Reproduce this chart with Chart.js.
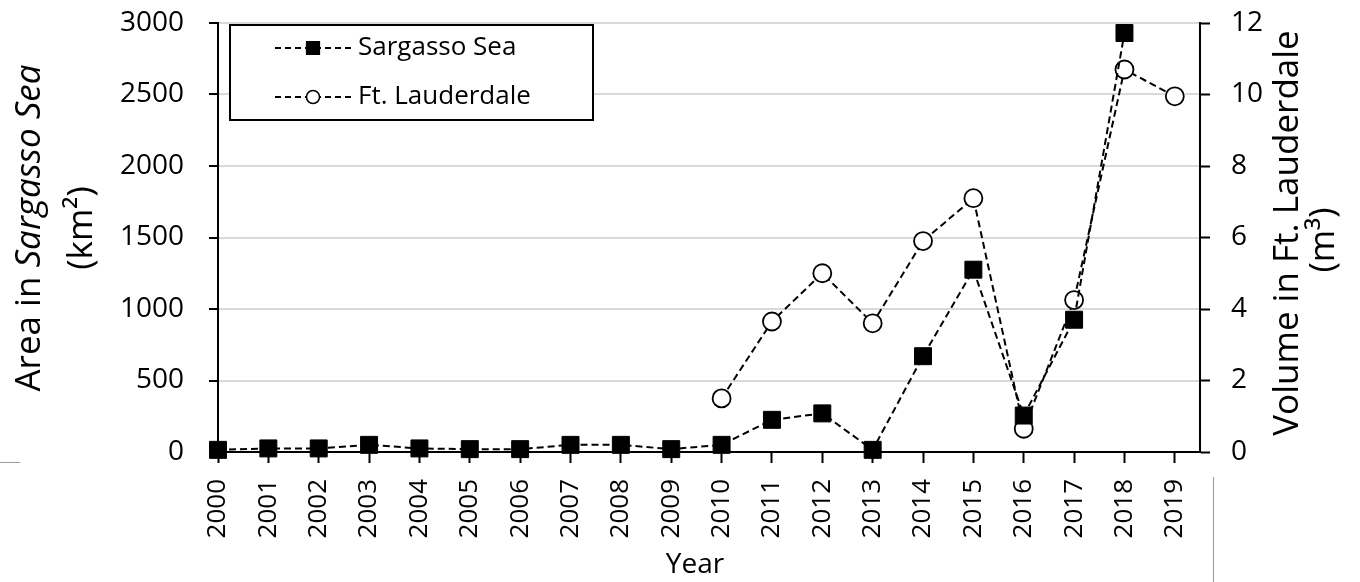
<!DOCTYPE html>
<html lang="en">
<head>
  <meta charset="UTF-8">
  <title>Sargasso Sea vs Ft. Lauderdale</title>
  <script src="https://cdn.jsdelivr.net/npm/chart.js"></script>
  <style>
    body {
      margin: 0;
      background: #ffffff;
    }
    .wrap {
      width: 1360px;
      height: 582px;
    }
  </style>
</head>
<body>
  <div class="wrap">
    <canvas id="seaChart" width="1360" height="582"></canvas>
  </div>

  <script>
    // data
    const years = [2000, 2001, 2002, 2003, 2004, 2005, 2006, 2007, 2008, 2009,
                   2010, 2011, 2012, 2013, 2014, 2015, 2016, 2017, 2018, 2019];
    const sargassoArea = [15, 25, 25, 50, 25, 20, 20, 50, 50, 20,
                          50, 225, 270, 15, 670, 1275, 255, 925, 2930, null];
    const lauderdaleVolume = [null, null, null, null, null, null, null, null, null, null,
                              1.5, 3.65, 5.0, 3.6, 5.9, 7.1, 0.65, 4.25, 10.7, 9.95];
    const leftTicks = [0, 500, 1000, 1500, 2000, 2500, 3000];
    const rightTicks = [0, 2, 4, 6, 8, 10, 12];

    const FONT = "'Open Sans', sans-serif";

    const toPoints = (vals) => years.map((yr, i) => ({ x: yr, y: vals[i] }));

    // keep the plot box where the figure has it
    const noPad = (axis) => {
      axis.paddingTop = 0;
      axis.paddingBottom = 0;
    };

    // axis titles, legend box and two scan leftovers
    const extras = {
      id: 'extras',
      afterDraw(chart) {
        const ctx = chart.ctx;
        ctx.save();
        ctx.fillStyle = '#000';
        ctx.textBaseline = 'middle';

        // left title, first line has an italic part
        ctx.save();
        ctx.translate(30, 228);
        ctx.rotate(-Math.PI / 2);
        const partA = 'Area in ';
        const partB = 'Sargasso Sea';
        ctx.font = '35px ' + FONT;
        const wA = ctx.measureText(partA).width;
        ctx.font = 'italic 35px ' + FONT;
        const wB = ctx.measureText(partB).width;
        const startX = -(wA + wB) / 2;
        ctx.textAlign = 'left';
        ctx.font = '35px ' + FONT;
        ctx.fillText(partA, startX, 0);
        ctx.font = 'italic 35px ' + FONT;
        ctx.fillText(partB, startX + wA, 0);
        ctx.restore();

        ctx.save();
        ctx.translate(82, 228);
        ctx.rotate(-Math.PI / 2);
        ctx.textAlign = 'center';
        ctx.font = '35px ' + FONT;
        ctx.fillText('(km²)', 0, 0);
        ctx.restore();

        // right title, reads bottom to top as well
        ctx.save();
        ctx.translate(1288, 233);
        ctx.rotate(-Math.PI / 2);
        ctx.textAlign = 'center';
        ctx.font = '35px ' + FONT;
        ctx.fillText('Volume in Ft. Lauderdale', 0, 0);
        ctx.restore();

        ctx.save();
        ctx.translate(1324, 240);
        ctx.rotate(-Math.PI / 2);
        ctx.textAlign = 'center';
        ctx.font = '35px ' + FONT;
        ctx.fillText('(m³)', 0, 0);
        ctx.restore();

        // x title
        ctx.textAlign = 'center';
        ctx.font = '28px ' + FONT;
        ctx.fillText('Year', 695, 565);

        // legend box
        ctx.fillStyle = '#fff';
        ctx.fillRect(230, 25, 363, 95);
        ctx.strokeStyle = '#000';
        ctx.lineWidth = 2;
        ctx.strokeRect(230, 25, 363, 95);

        const rows = [
          { y: 48, style: 'rect', r: 9, fill: '#000', text: 'Sargasso Sea' },
          { y: 97, style: 'circle', r: 6.5, fill: '#fff', text: 'Ft. Lauderdale' }
        ];
        rows.forEach(row => {
          ctx.save();
          ctx.setLineDash([6, 4]);
          ctx.lineWidth = 2;
          ctx.strokeStyle = '#000';
          ctx.beginPath();
          ctx.moveTo(275, row.y);
          ctx.lineTo(352, row.y);
          ctx.stroke();
          ctx.setLineDash([]);
          ctx.fillStyle = row.fill;
          ctx.lineWidth = 1.5;
          Chart.helpers.drawPoint(ctx, { pointStyle: row.style, radius: row.r, borderWidth: 1.5, rotation: 0 }, 313, row.y);
          ctx.restore();

          ctx.fillStyle = '#000';
          ctx.font = '26px ' + FONT;
          ctx.textAlign = 'left';
          ctx.fillText(row.text, 358, row.y);
        });

        // scan leftovers
        ctx.strokeStyle = '#9a9a9a';
        ctx.lineWidth = 1;
        ctx.beginPath();
        ctx.moveTo(1213.5, 477);
        ctx.lineTo(1213.5, 582);
        ctx.moveTo(0, 462.5);
        ctx.lineTo(20, 462.5);
        ctx.stroke();
        ctx.restore();
      }
    };

    const ctx = document.getElementById('seaChart').getContext('2d');
    new Chart(ctx, {
      type: 'line',
      data: {
        datasets: [
          {
            label: 'Sargasso Sea',
            data: toPoints(sargassoArea),
            yAxisID: 'y',
            borderColor: '#000',
            borderWidth: 2,
            borderDash: [7, 4],
            pointStyle: 'rect',
            pointRadius: 12,
            pointBackgroundColor: '#000',
            pointBorderColor: '#000',
            pointBorderWidth: 1,
            tension: 0,
            clip: false
          },
          {
            label: 'Ft. Lauderdale',
            data: toPoints(lauderdaleVolume),
            yAxisID: 'y1',
            borderColor: '#000',
            borderWidth: 2,
            borderDash: [7, 4],
            pointStyle: 'circle',
            pointRadius: 9,
            pointBackgroundColor: '#fff',
            pointBorderColor: '#000',
            pointBorderWidth: 1.8,
            tension: 0,
            clip: false
          }
        ]
      },
      options: {
        responsive: false,
        animation: false,
        layout: { padding: { top: 23, left: 0, right: 0, bottom: 0 } },
        plugins: {
          legend: { display: false },
          tooltip: { enabled: false }
        },
        scales: {
          x: {
            type: 'linear',
            min: 2000,
            max: 2019.5,
            afterBuildTicks(axis) {
              axis.ticks = years.map(v => ({ value: v }));
            },
            afterFit(axis) {
              axis.height = 130;
              noPad(axis);
            },
            ticks: {
              color: '#000',
              font: { family: FONT, size: 26 },
              minRotation: 90,
              maxRotation: 90,
              padding: 16,
              callback: (v) => String(v)
            },
            grid: {
              drawOnChartArea: false,
              drawTicks: true,
              tickLength: 11,
              tickColor: '#000',
              tickWidth: 2
            },
            border: { display: true, color: '#000', width: 2 }
          },
          y: {
            position: 'left',
            min: 0,
            max: 3000,
            afterBuildTicks(axis) {
              axis.ticks = leftTicks.map(v => ({ value: v }));
            },
            afterFit(axis) {
              axis.width = 218;
              noPad(axis);
            },
            ticks: {
              color: '#000',
              font: { family: FONT, size: 28 },
              padding: 25,
              callback: (v) => String(v)
            },
            grid: {
              color: '#d9d9d9',
              lineWidth: 2,
              tickColor: '#000',
              tickLength: 9,
              tickWidth: 2
            },
            border: { display: true, color: '#000', width: 2 }
          },
          y1: {
            position: 'right',
            min: 0,
            max: 12,
            afterBuildTicks(axis) {
              axis.ticks = rightTicks.map(v => ({ value: v }));
            },
            afterFit(axis) {
              axis.width = 160;
              noPad(axis);
            },
            ticks: {
              color: '#000',
              font: { family: FONT, size: 28 },
              padding: 21,
              callback: (v) => String(v)
            },
            grid: {
              drawOnChartArea: false,
              tickColor: '#000',
              tickLength: 10,
              tickWidth: 2
            },
            border: { display: true, color: '#000', width: 2 }
          }
        }
      },
      plugins: [extras]
    });
  </script>
</body>
</html>
